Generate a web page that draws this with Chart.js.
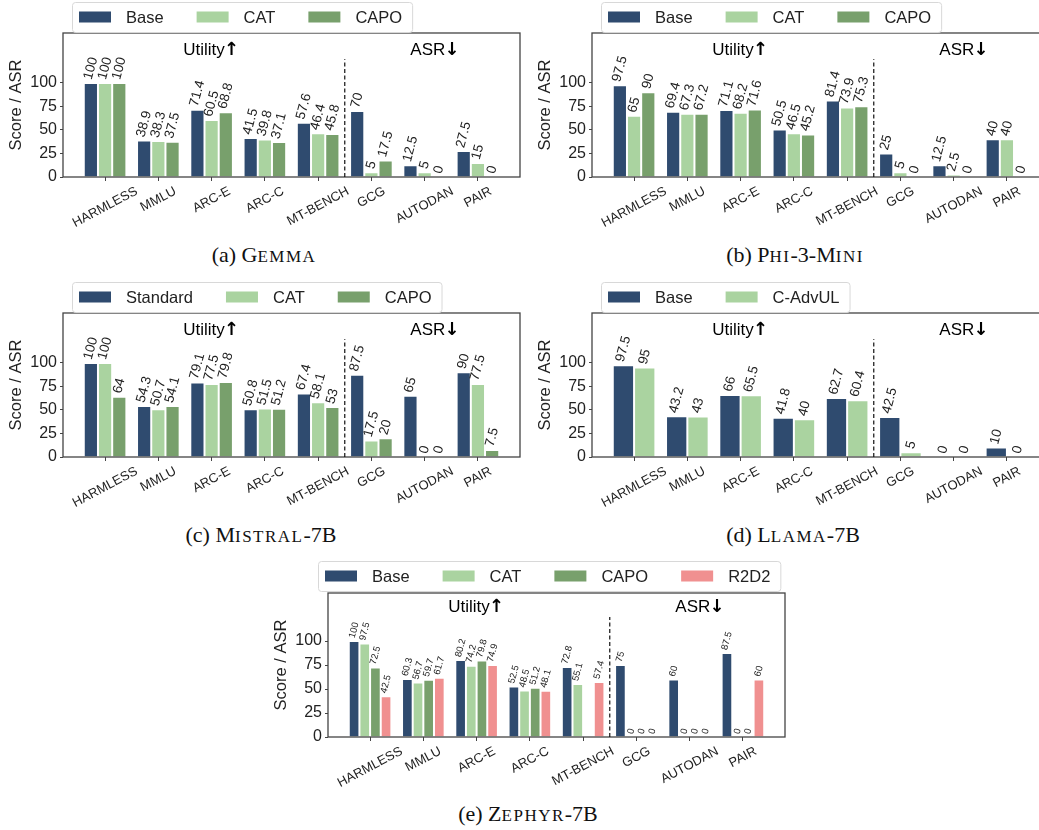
<!DOCTYPE html>
<html>
<head>
<meta charset="utf-8">
<script src="https://cdn.jsdelivr.net/npm/chart.js@4.4.1/dist/chart.umd.min.js"></script>
<style>
    html, body { margin: 0; padding: 0; background: #fff; overflow: hidden; }
    body { width: 1039px; height: 830px; position: relative; }
    canvas { position: absolute; }
    .caption {
        position: absolute;
        font-family: "Liberation Serif", "Times New Roman", serif;
        font-size: 22px;
        line-height: 22px;
        color: #111;
        white-space: nowrap;
        transform: translateX(-50%);
    }
    .caption small { font-size: 17px; letter-spacing: 1.5px; }
</style>
</head>
<body>
<canvas id="gemma" width="524" height="240" style="left:0px;top:0px"></canvas>
<canvas id="phi" width="524" height="240" style="left:529px;top:0px"></canvas>
<canvas id="mistral" width="524" height="240" style="left:0px;top:280px"></canvas>
<canvas id="llama" width="524" height="240" style="left:529px;top:280px"></canvas>
<canvas id="zephyr" width="524" height="240" style="left:265px;top:560px"></canvas>

<div class="caption" style="left:264px;top:244px">(a) G<small>EMMA</small></div>
<div class="caption" style="left:795px;top:244px">(b) P<small>HI</small>-3-M<small>INI</small></div>
<div class="caption" style="left:261px;top:524px">(c) M<small>ISTRAL</small>-7B</div>
<div class="caption" style="left:793px;top:524px">(d) L<small>LAMA</small>-7B</div>
<div class="caption" style="left:528px;top:803px">(e) Z<small>EPHYR</small>-7B</div>

<script>
// Shared axis data
const CATEGORIES = ['HARMLESS', 'MMLU', 'ARC-E', 'ARC-C', 'MT-BENCH', 'GCG', 'AUTODAN', 'PAIR'];
const Y_TICKS = [0, 25, 50, 75, 100];

// (a) Gemma
const gemmaBase = [100, 38.9, 71.4, 41.5, 57.6, 70, 12.5, 27.5];
const gemmaCat = [100, 38.3, 60.5, 39.8, 46.4, 5, 5, 15];
const gemmaCapo = [100, 37.5, 68.8, 37.1, 45.8, 17.5, 0, 0];

// (b) Phi-3-Mini
const phiBase = [97.5, 69.4, 71.1, 50.5, 81.4, 25, 12.5, 40];
const phiCat = [65, 67.3, 68.2, 46.5, 73.9, 5, 2.5, 40];
const phiCapo = [90, 67.2, 71.6, 45.2, 75.3, 0, 0, 0];

// (c) Mistral-7B
const mistralStandard = [100, 54.3, 79.1, 50.8, 67.4, 87.5, 65, 90];
const mistralCat = [100, 50.7, 77.5, 51.5, 58.1, 17.5, 0, 77.5];
const mistralCapo = [64, 54.1, 79.8, 51.2, 53, 20, 0, 7.5];

// (d) Llama-7B
const llamaBase = [97.5, 43.2, 66, 41.8, 62.7, 42.5, 0, 10];
const llamaAdvul = [95, 43, 65.5, 40, 60.4, 5, 0, 0];

// (e) Zephyr-7B (no CAPO bar for MT-BENCH)
const zephyrBase = [100, 60.3, 80.2, 52.5, 72.8, 75, 60, 87.5];
const zephyrCat = [97.5, 56.7, 74.2, 48.5, 55.1, 0, 0, 0];
const zephyrCapo = [72.5, 59.7, 79.8, 51.2, null, 0, 0, 0];
const zephyrR2d2 = [42.5, 61.7, 74.9, 48.1, 57.4, 0, 0, 60];

const COLOR_BASE = '#2f4b6f';
const COLOR_CAT = '#aad3a0';
const COLOR_CAPO = '#78a06c';
const COLOR_R2D2 = '#f09090';

const SANS = '"Liberation Sans", Arial, sans-serif';
const TEXT_COLOR = '#222';

Chart.defaults.font.family = SANS;

const panels = [
    { id: 'gemma', yMax: 153, valueFont: 13.5, legendX: 72, legendY: 2,
      series: [['Base', gemmaBase, COLOR_BASE], ['CAT', gemmaCat, COLOR_CAT], ['CAPO', gemmaCapo, COLOR_CAPO]] },
    { id: 'phi', yMax: 153, valueFont: 13.5, legendX: 72, legendY: 2,
      series: [['Base', phiBase, COLOR_BASE], ['CAT', phiCat, COLOR_CAT], ['CAPO', phiCapo, COLOR_CAPO]] },
    { id: 'mistral', yMax: 153, valueFont: 13.5, legendX: 72, legendY: 2,
      series: [['Standard', mistralStandard, COLOR_BASE], ['CAT', mistralCat, COLOR_CAT], ['CAPO', mistralCapo, COLOR_CAPO]] },
    { id: 'llama', yMax: 153, valueFont: 13.5, legendX: 72, legendY: 2,
      series: [['Base', llamaBase, COLOR_BASE], ['C-AdvUL', llamaAdvul, COLOR_CAT]] },
    { id: 'zephyr', yMax: 150, valueFont: 9.5, legendX: 53, legendY: 1,
      series: [['Base', zephyrBase, COLOR_BASE], ['CAT', zephyrCat, COLOR_CAT], ['CAPO', zephyrCapo, COLOR_CAPO], ['R2D2', zephyrR2d2, COLOR_R2D2]] }
];

function formatValue(v) {
    return Number.isInteger(v) ? String(v) : v.toFixed(1);
}

/**
 * Draw text rotated counter-clockwise, its bounding box centred on cx.
 * anchor 'bottom' puts the box bottom at y, 'top' puts the box top at y.
 */
function drawRotated(ctx, text, cx, y, angleDeg, fontPx, anchor) {
    const a = angleDeg * Math.PI / 180;
    ctx.font = fontPx + 'px ' + SANS;
    const w = ctx.measureText(text).width;
    const h = fontPx * 0.95;
    const boxH = w * Math.sin(a) + h * Math.cos(a);
    const cy = anchor === 'bottom' ? y - boxH / 2 : y + boxH / 2;
    ctx.save();
    ctx.translate(cx, cy);
    ctx.rotate(-a);
    ctx.textAlign = 'center';
    ctx.textBaseline = 'middle';
    ctx.fillText(text, 0, 0);
    ctx.restore();
}

function drawHeader(ctx, word, arrow, cx, cy) {
    const wordFont = '17px ' + SANS;
    const arrowFont = 'bold 18px "DejaVu Sans", sans-serif';
    ctx.font = wordFont;
    const w1 = ctx.measureText(word).width;
    ctx.font = arrowFont;
    const w2 = ctx.measureText(arrow).width;
    const x0 = cx - (w1 + w2) / 2;
    ctx.textAlign = 'left';
    ctx.textBaseline = 'middle';
    ctx.fillStyle = '#000';
    ctx.font = wordFont;
    ctx.fillText(word, x0, cy);
    ctx.font = arrowFont;
    ctx.fillText(arrow, x0 + w1 - 1, cy);
}

function drawLegend(ctx, panel) {
    const font = '16.5px ' + SANS;
    ctx.font = font;
    const swatchW = 32, swatchH = 11, textPad = 15, colGap = 33, padX = 7;
    let width = padX;
    const widths = panel.series.map(s => ctx.measureText(s[0]).width);
    widths.forEach((tw, i) => {
        width += swatchW + textPad + tw + (i < widths.length - 1 ? colGap : 0);
    });
    width += 10;
    const bx = panel.legendX, by = panel.legendY, bh = 30;

    ctx.save();
    ctx.beginPath();
    ctx.roundRect(bx + 0.5, by + 0.5, width, bh, 3);
    ctx.fillStyle = 'rgba(255,255,255,0.9)';
    ctx.fill();
    ctx.strokeStyle = '#d8d8d8';
    ctx.lineWidth = 1;
    ctx.stroke();

    let x = bx + padX;
    const cy = by + bh / 2;
    panel.series.forEach((s, i) => {
        ctx.fillStyle = s[2];
        ctx.fillRect(x, cy - swatchH / 2, swatchW, swatchH);
        ctx.fillStyle = TEXT_COLOR;
        ctx.font = font;
        ctx.textAlign = 'left';
        ctx.textBaseline = 'middle';
        ctx.fillText(s[0], x + swatchW + textPad, cy + 1);
        x += swatchW + textPad + widths[i] + colGap;
    });
    ctx.restore();
}

function decorPlugin(panel) {
    return {
        id: 'decor_' + panel.id,
        afterDatasetsDraw(chart) {
            const ctx = chart.ctx;
            ctx.save();
            ctx.fillStyle = TEXT_COLOR;
            panel.series.forEach((s, d) => {
                const meta = chart.getDatasetMeta(d);
                s[1].forEach((v, i) => {
                    if (v === null) return;
                    const bar = meta.data[i];
                    drawRotated(ctx, formatValue(v), bar.x, bar.y - 2, 75, panel.valueFont, 'bottom');
                });
            });
            ctx.restore();
        },
        afterDraw(chart) {
            const ctx = chart.ctx;
            const area = chart.chartArea;
            const xs = chart.scales.x;
            const ys = chart.scales.y;

            // frame
            ctx.save();
            ctx.lineWidth = 1.3;
            ctx.strokeStyle = '#444';
            ctx.strokeRect(area.left, area.top, area.right - area.left, area.bottom - area.top);

            // split between utility and attack metrics
            ctx.beginPath();
            ctx.setLineDash([4, 2.5]);
            ctx.lineWidth = 1.2;
            ctx.strokeStyle = '#111';
            ctx.moveTo(xs.getPixelForValue(4.5), ys.getPixelForValue(0));
            ctx.lineTo(xs.getPixelForValue(4.5), ys.getPixelForValue(125));
            ctx.stroke();
            ctx.setLineDash([]);

            drawHeader(ctx, 'Utility', '↑', xs.getPixelForValue(2), ys.getPixelForValue(135));
            drawHeader(ctx, 'ASR', '↓', xs.getPixelForValue(6.2), ys.getPixelForValue(135));

            // rotated category labels
            ctx.fillStyle = TEXT_COLOR;
            CATEGORIES.forEach((c, i) => {
                drawRotated(ctx, c, xs.getPixelForValue(i), area.bottom + 8, 28, 13, 'top');
            });
            ctx.restore();

            drawLegend(ctx, panel);
        }
    };
}

function makeChart(panel) {
    const canvas = document.getElementById(panel.id);
    return new Chart(canvas.getContext('2d'), {
        type: 'bar',
        data: {
            datasets: panel.series.map(([label, values, color]) => ({
                label: label,
                data: values.map((v, i) => ({ x: i, y: v })),
                backgroundColor: color,
                borderColor: 'rgba(255, 255, 255, 0.85)',
                borderWidth: 1,
                categoryPercentage: 0.8,
                barPercentage: 1
            }))
        },
        options: {
            responsive: false,
            animation: false,
            devicePixelRatio: 1,
            layout: { padding: { left: 0, right: 4, top: 33, bottom: 23 } },
            plugins: {
                legend: { display: false },
                tooltip: { enabled: false }
            },
            scales: {
                x: {
                    type: 'linear',
                    offset: false,
                    min: -0.79,
                    max: 7.79,
                    afterBuildTicks: scale => {
                        scale.ticks = CATEGORIES.map((c, i) => ({ value: i }));
                    },
                    afterFit: scale => { scale.height = 40; },
                    ticks: { display: false },
                    grid: { offset: false, drawOnChartArea: false, drawTicks: true, tickLength: 4, color: '#444', lineWidth: 1 },
                    border: { display: false }
                },
                y: {
                    min: 0,
                    max: panel.yMax,
                    afterBuildTicks: scale => {
                        scale.ticks = Y_TICKS.map(v => ({ value: v }));
                    },
                    afterFit: scale => { scale.width = 63; },
                    ticks: {
                        color: TEXT_COLOR,
                        font: { size: 16 },
                        padding: 3
                    },
                    grid: { drawOnChartArea: false, drawTicks: true, tickLength: 3, color: '#444', lineWidth: 1 },
                    border: { display: false },
                    title: {
                        display: true,
                        text: 'Score / ASR',
                        color: TEXT_COLOR,
                        font: { size: 16.5 },
                        padding: { top: 7, bottom: 0 }
                    }
                }
            }
        },
        plugins: [decorPlugin(panel)]
    });
}

panels.forEach(makeChart);
</script>
</body>
</html>
